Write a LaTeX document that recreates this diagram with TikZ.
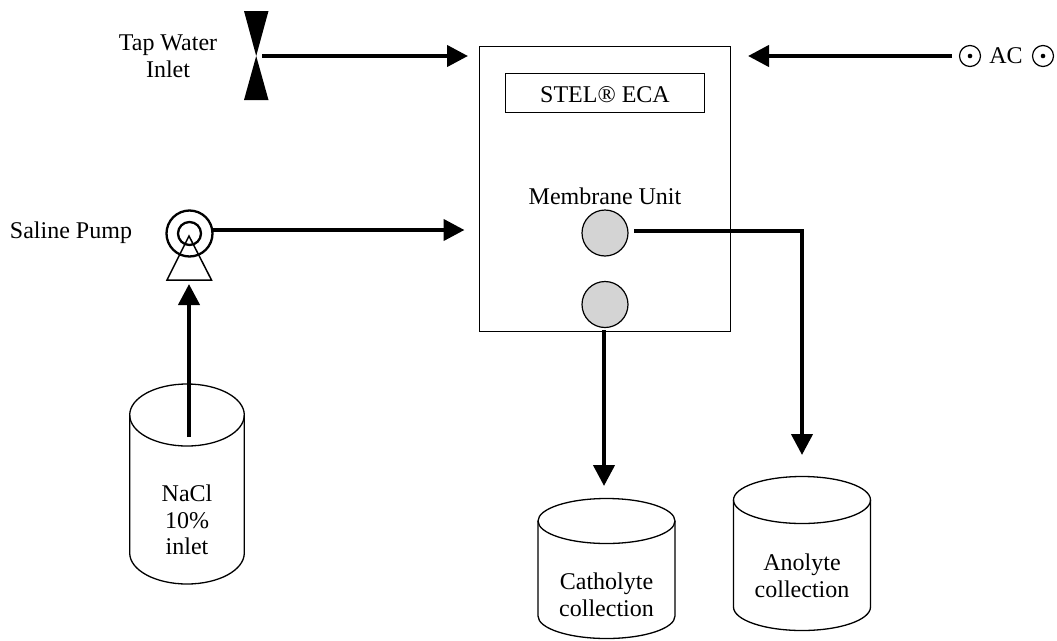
\documentclass[tikz,border=0pt]{standalone}
\usepackage{fontspec}
\setmainfont{Liberation Serif}
\usetikzlibrary{arrows.meta}
\definecolor{portgray}{HTML}{D4D4D4}
\tikzset{
  lab/.style={inner sep=0pt,font=\fontsize{24}{26.5}\selectfont,align=center,text=black},
  flow/.style={line width=4.2pt,-{Triangle[length=21pt,width=21pt]}},
  tank/.style={line width=1.3pt,draw=black},
  port/.style={circle,draw=black,fill=portgray,line width=1.2pt,minimum size=46pt,inner sep=0pt},
  term/.style={circle,draw=black,line width=1.2pt,minimum size=21pt,inner sep=0pt}
}
\newcommand{\tankshape}[5]{% cx, halfwidth, ry, ymid, ybottom
  \draw[tank] (#1-#2,#4) arc[x radius=#2,y radius=#3,start angle=180,end angle=-180];
  \draw[tank] (#1-#2,#4) -- (#1-#2,#5) arc[x radius=#2,y radius=#3,start angle=180,end angle=0] -- (#1+#2,#4);
}
\begin{document}
\begin{tikzpicture}[x=1pt,y=-1pt]
\useasboundingbox (0,0) rectangle (1057,640);
% main box
\node[draw=black,line width=1.6pt,minimum width=251pt,minimum height=285pt,inner sep=0pt] (unit) at (605,189) {};
\node[draw=black,line width=1.3pt,minimum width=199pt,minimum height=39.5pt,inner sep=0pt] (stel) at (605,93) {};
\node[lab] (steltxt) at (605,95) {STEL® ECA};
\node[lab] (mem) at (605,196) {Membrane Unit};
\node[port] (c1) at (605,233) {};
\node[port] (c2) at (605,304.5) {};
% labels
\node[lab] (tap) at (168,56.5) {Tap Water\\Inlet};
\node[lab] (sal) at (71,233) {Saline Pump};
% valve
\fill[black] (244,11) -- (268.5,11) -- (256.2,56) -- (268.5,100) -- (244,100) -- (256.2,56) -- cycle;
\coordinate (valve) at (262,56);
\coordinate (t1) at (468,56);
\coordinate (t2) at (464.5,230);
\draw[flow] (valve) -- (t1);
% pump
\draw[line width=2.3pt] (189.5,233.5) circle (23);
\draw[line width=2.3pt] (189.5,233.5) circle (11.5);
\draw[line width=1.5pt] (189,236) -- (167,280) -- (211.5,280) -- cycle;
\coordinate (pump) at (213,230);
\draw[flow] (pump) -- (t2);
% AC
\coordinate (acend) at (952,56);
\coordinate (t3) at (748,56);
\draw[flow] (acend) -- (t3);
\node[lab] (ac) at (1006,56) {AC};
\node[term] (s1) at (970,56) {};
\fill (s1) circle (2.3);
\node[term] (s2) at (1043,56) {};
\fill (s2) circle (2.3);
% tanks
\tankshape{187}{57.3}{31}{415}{553}
\tankshape{606.5}{68.5}{22.5}{521}{616}
\tankshape{802}{68.5}{23.5}{500}{607}
\node[lab] (nacl) at (187,520) {NaCl\\10\%\\inlet};
\node[lab] (cat) at (606.5,595) {Catholyte\\collection};
\node[lab] (ano) at (802,576) {Anolyte\\collection};
% flows
\coordinate (n1) at (189,437);
\coordinate (n2) at (189,284);
\draw[flow] (n1) -- (n2);
\coordinate (d1) at (604,330);
\coordinate (d2) at (604,486);
\draw[flow] (d1) -- (d2);
\coordinate (e1) at (634,231);
\coordinate (e2) at (802,231);
\coordinate (e3) at (802,455);
\draw[flow] (e1) -- (e2) -- (e3);
\end{tikzpicture}
\end{document}
